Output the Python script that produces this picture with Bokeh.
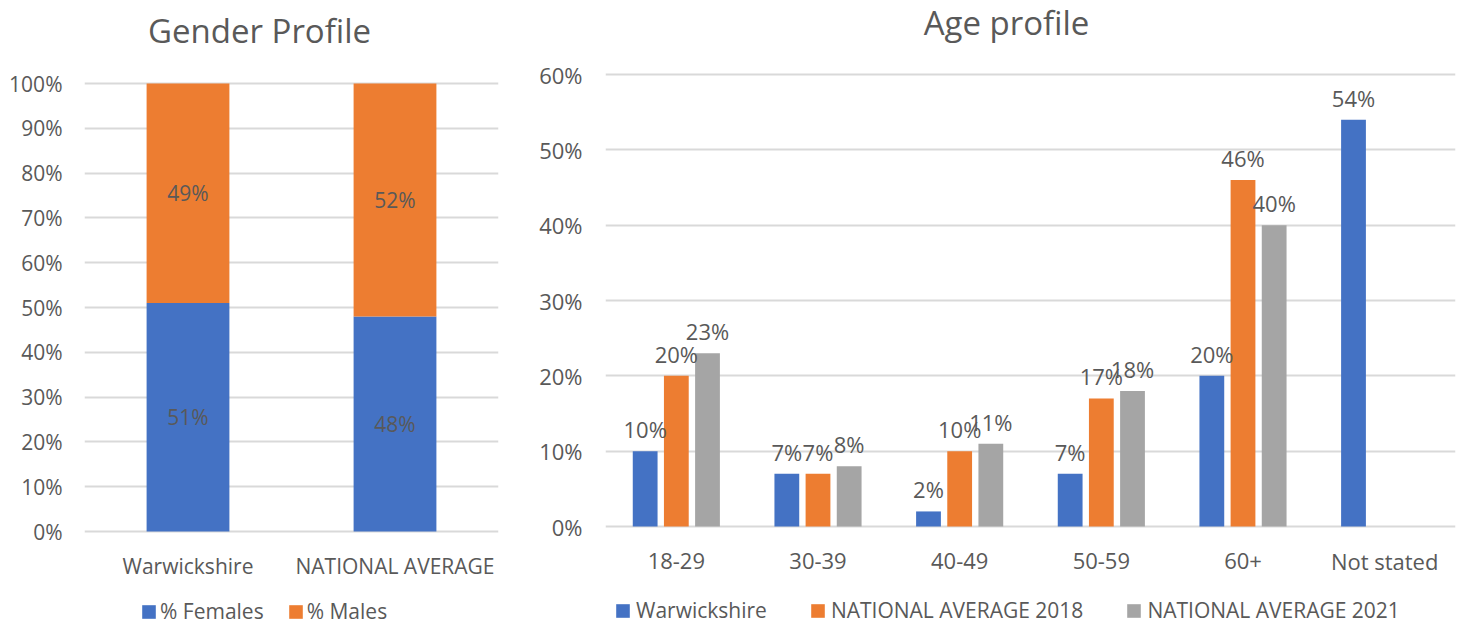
from bokeh.plotting import figure
from bokeh.layouts import row
from bokeh.models import (ColumnDataSource, FactorRange, Range1d, LabelSet, Legend,
                          LegendItem, NumeralTickFormatter, FixedTicker, Label)
from bokeh.core.properties import value
from bokeh.transform import dodge
from bokeh.embed import file_html
from bokeh.resources import INLINE

FONT = "Open Sans"
TXT = "#595959"
GRID = "#D9D9D9"
BLUE = "#4472C4"
ORANGE = "#ED7D31"
GRAY = "#A5A5A5"

# ---------------- data ----------------
gender_cats = ["Warwickshire", "NATIONAL AVERAGE"]
females = [0.51, 0.48]
males = [0.49, 0.52]
gender_ticks = [0, 0.1, 0.2, 0.3, 0.4, 0.5, 0.6, 0.7, 0.8, 0.9, 1.0]

age_cats = ["18-29", "30-39", "40-49", "50-59", "60+", "Not stated"]
warwick = [0.10, 0.07, 0.02, 0.07, 0.20, 0.54]
nat2018 = [0.20, 0.07, 0.10, 0.17, 0.46, None]
nat2021 = [0.23, 0.08, 0.11, 0.18, 0.40, None]
age_ticks = [0, 0.1, 0.2, 0.3, 0.4, 0.5, 0.6]

# ---------------- layout constants (pixels) ----------------
H = 625


def yrange(v_top, px_top, px_zero):
    """Range so that value 0 sits at px_zero and v_top at px_top (frame = whole height)."""
    per = (px_zero - px_top) / v_top
    return Range1d(-(H - px_zero) / per, v_top + px_top / per)


def pct(v):
    return f"{round(v * 100):d}%"


def style(p, fs):
    p.outline_line_color = None
    p.xgrid.grid_line_color = None
    p.ygrid.grid_line_color = GRID
    p.ygrid.grid_line_width = 2
    p.yaxis.axis_line_color = None
    p.yaxis.major_tick_line_color = None
    p.yaxis.minor_tick_line_color = None
    p.yaxis.major_label_text_font = FONT
    p.yaxis.major_label_text_color = TXT
    p.yaxis.major_label_text_font_size = fs
    p.yaxis.formatter = NumeralTickFormatter(format="0%")
    p.xaxis.visible = False


def cat_labels(p, cats, fs, dy):
    src = ColumnDataSource(dict(cat=cats, y=[0] * len(cats)))
    p.add_layout(LabelSet(x="cat", y="y", text="cat", source=src, y_offset=-dy,
                          text_align="center", text_baseline="middle",
                          text_font=value(FONT), text_font_size=value(fs),
                          text_color=TXT))


def legend(items, loc, spacing, standoff, fs):
    return Legend(items=items, orientation="horizontal", location=loc, margin=0,
                  padding=0, spacing=spacing, glyph_width=17, glyph_height=17,
                  label_standoff=standoff, label_text_font=FONT,
                  label_text_font_size=fs, label_text_color=TXT,
                  border_line_color=None, background_fill_alpha=0, label_height=20)


# ---------------- gender profile ----------------
p1 = figure(frame_width=414, frame_height=H, x_range=FactorRange(*gender_cats),
            y_range=yrange(1.0, 83, 531), output_backend="svg", toolbar_location=None,
            min_border_left=84, min_border_right=22, min_border_top=0,
            min_border_bottom=0)
style(p1, "21px")
p1.yaxis.ticker = FixedTicker(ticks=gender_ticks)
p1.yaxis.major_label_standoff = 16
cat_labels(p1, gender_cats, "21px", 34)

gsrc = ColumnDataSource(dict(
    cat=gender_cats, f=females, m=males,
    fy=[v / 2 for v in females], my=[a + b / 2 for a, b in zip(females, males)],
    ft=[pct(v) for v in females], mt=[pct(v) for v in males],
))
rs = p1.vbar_stack(["f", "m"], x="cat", width=0.4, color=[BLUE, ORANGE], source=gsrc,
                   line_color=None)
for yf, tf in (("fy", "ft"), ("my", "mt")):
    p1.add_layout(LabelSet(x="cat", y=yf, text=tf, source=gsrc, text_align="center",
                           text_baseline="middle", text_font_size=value("21px"),
                           text_font=value(FONT), text_color=TXT))

p1.add_layout(Label(x=175, y=H - 30, x_units="screen", y_units="screen",
                    text="Gender Profile", text_align="center", text_baseline="middle",
                    text_font=FONT, text_font_size="33px", text_color=TXT))

p1.add_layout(legend([LegendItem(label="% Females", renderers=[rs[0]]),
                      LegendItem(label="% Males", renderers=[rs[1]])],
                     (56, 0), 23, 3, "21px"))

# ---------------- age profile ----------------
p2 = figure(frame_width=850, frame_height=H, x_range=FactorRange(*age_cats),
            y_range=yrange(0.6, 74, 526), output_backend="svg", toolbar_location=None,
            min_border_left=85, min_border_right=8, min_border_top=0,
            min_border_bottom=0)
style(p2, "22px")
p2.yaxis.ticker = FixedTicker(ticks=age_ticks)
p2.yaxis.major_label_standoff = 17
cat_labels(p2, age_cats, "22px", 34)

p2.add_layout(Label(x=401, y=H - 22, x_units="screen", y_units="screen",
                    text="Age profile", text_align="center", text_baseline="middle",
                    text_font=FONT, text_font_size="33px", text_color=TXT))

series = [("Warwickshire", warwick, BLUE, -0.22),
          ("NATIONAL AVERAGE 2018", nat2018, ORANGE, 0.0),
          ("NATIONAL AVERAGE 2021", nat2021, GRAY, 0.22)]
items = []
for name, vals, col, off in series:
    cats = [c for c, v in zip(age_cats, vals) if v is not None]
    vs = [v for v in vals if v is not None]
    src = ColumnDataSource(dict(cat=cats, v=vs, t=[pct(v) for v in vs]))
    r = p2.vbar(x=dodge("cat", off, range=p2.x_range), top="v", width=0.175,
                color=col, line_color=None, source=src)
    p2.add_layout(LabelSet(x=dodge("cat", off, range=p2.x_range), y="v", text="t",
                           source=src, text_align="center", text_baseline="middle",
                           y_offset=22, text_font_size=value("22px"),
                           text_font=value(FONT), text_color=TXT))
    items.append(LegendItem(label=name, renderers=[r]))

p2.add_layout(legend(items, (9, 1), 42, 5, "21px"))

layout = row(p1, p2)
open("out.html", "w").write(file_html(layout, INLINE))
